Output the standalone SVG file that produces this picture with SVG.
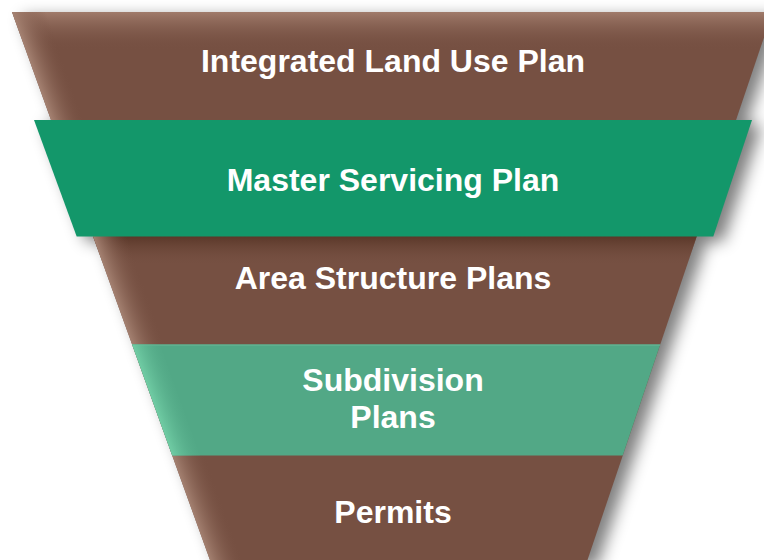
<svg xmlns="http://www.w3.org/2000/svg" width="764" height="560" viewBox="0 0 764 560">
  <style>
    .label { font-family: "Liberation Sans", Arial, sans-serif; font-weight: bold; font-size: 32px; fill: #ffffff; text-anchor: middle; }
  </style>
  <defs>
    <!-- funnel outline -->
    <clipPath id="funnelClip">
      <polygon points="12,12 772.5,12 586.8,562 210.7,562"/>
    </clipPath>
    <!-- soft drop shadow -->
    <filter id="shadow" x="-10%" y="-10%" width="130%" height="130%">
      <feGaussianBlur stdDeviation="8"/>
    </filter>
    <!-- top edge lightening -->
    <linearGradient id="topFade" x1="0" y1="12" x2="0" y2="50" gradientUnits="userSpaceOnUse">
      <stop offset="0" stop-color="#a07b6b" stop-opacity="1"/>
      <stop offset="1" stop-color="#765042" stop-opacity="0"/>
    </linearGradient>
    <!-- highlight along the slanted left edge -->
    <linearGradient id="edgeGlow" x1="12" y1="12" x2="42" y2="1.2" gradientUnits="userSpaceOnUse">
      <stop offset="0" stop-color="#a58272" stop-opacity="1"/>
      <stop offset="1" stop-color="#765042" stop-opacity="0"/>
    </linearGradient>
    <linearGradient id="edgeGlowGreen" x1="12" y1="12" x2="40.2" y2="1.8" gradientUnits="userSpaceOnUse">
      <stop offset="0" stop-color="#70cca4" stop-opacity="1"/>
      <stop offset="1" stop-color="#52a886" stop-opacity="0"/>
    </linearGradient>
    <!-- dark band under the master servicing layer -->
    <linearGradient id="underShade" x1="0" y1="236" x2="0" y2="266" gradientUnits="userSpaceOnUse">
      <stop offset="0" stop-color="#5a3728" stop-opacity="1"/>
      <stop offset="1" stop-color="#765042" stop-opacity="0"/>
    </linearGradient>
  </defs>

  <rect width="764" height="560" fill="#ffffff"/>

  <!-- shadows -->
  <g id="shadows" filter="url(#shadow)" fill="#000000" opacity="0.5" transform="translate(10,5)">
    <polygon points="12,12 772.5,12 586.8,562 210.7,562"/>
    <polygon points="34,120 752,120 713.3,236.5 76.7,236.5"/>
  </g>

  <!-- brown funnel body -->
  <g id="funnel" clip-path="url(#funnelClip)">
    <rect x="0" y="0" width="800" height="570" fill="#765042"/>
    <rect x="0" y="10" width="800" height="45" fill="url(#topFade)"/>
    <rect x="0" y="236" width="800" height="32" fill="url(#underShade)"/>
    <polygon points="0,0 60,0 270,570 200,570" fill="url(#edgeGlow)"/>
  </g>

  <!-- layer 1 -->
  <g id="integrated-land-use-plan">
    <text class="label" x="393" y="72">Integrated Land Use Plan</text>
  </g>

  <!-- layer 2 -->
  <g id="master-servicing-plan">
    <polygon points="34,120 752,120 713.3,236.5 76.7,236.5" fill="#13976a"/>
    <text class="label" x="393" y="191">Master Servicing Plan</text>
  </g>

  <!-- layer 3 -->
  <g id="area-structure-plans">
    <text class="label" x="393" y="289">Area Structure Plans</text>
  </g>

  <!-- layer 4 -->
  <g id="subdivision-plans">
    <g clip-path="url(#funnelClip)">
      <rect x="0" y="344.5" width="800" height="111" fill="#52a886"/>
      <rect x="0" y="344.5" width="800" height="1.2" fill="#64b693"/>
      <polygon points="100,344.5 160,344.5 200,455.5 140,455.5" fill="url(#edgeGlowGreen)"/>
    </g>
    <text class="label" x="393" y="391">Subdivision</text>
    <text class="label" x="393" y="427.7">Plans</text>
  </g>

  <!-- layer 5 -->
  <g id="permits">
    <text class="label" x="393" y="522.7">Permits</text>
  </g>

  <g id="connectors"/>
</svg>
